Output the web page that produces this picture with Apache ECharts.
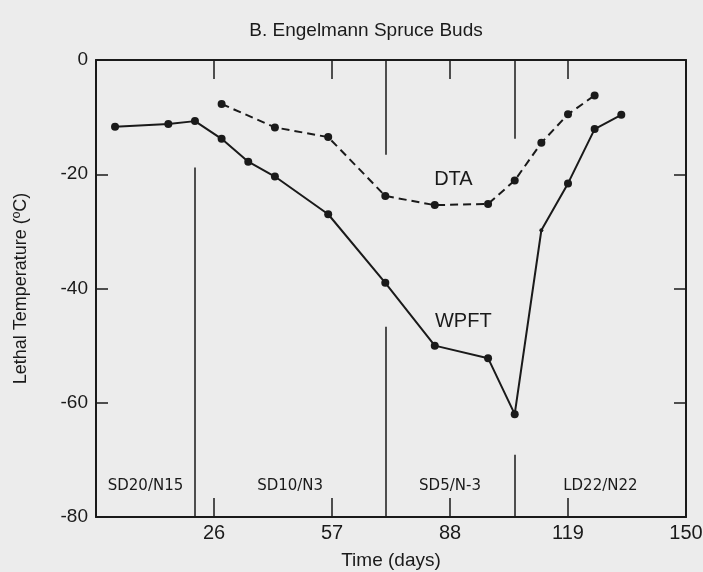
<!DOCTYPE html>
<html>
<head>
<meta charset="utf-8">
<script src="https://cdn.jsdelivr.net/npm/echarts@6/dist/echarts.min.js"></script>
<style>
html,body{margin:0;padding:0;background:#ececec;}
#chart{width:703px;height:572px;}
</style>
</head>
<body>
<div id="chart"></div>
<script>
// 读取自原图的数据
const wpftDays  = [0, 14, 21, 28, 35, 42, 56, 71, 84, 98, 105, 112, 119, 126, 133];
const wpftTemps = [-11.7, -11.2, -10.7, -13.8, -17.8, -20.4, -27.0, -39.0, -50.0, -52.2, -62.0, -29.8, -21.6, -12.1, -9.6];
const dtaDays   = [28, 42, 56, 71, 84, 98, 105, 112, 119, 126];
const dtaTemps  = [-7.7, -11.8, -13.5, -23.8, -25.4, -25.2, -21.1, -14.5, -9.5, -6.2];
const xTicks = [26, 57, 88, 119, 150];
const phaseNames  = ['SD20/N15', 'SD10/N3', 'SD5/N-3', 'LD22/N22'];
const phaseBounds = [-5, 21, 71, 105, 150];
// 阶段分界竖线: [天, 起点温度, 终点温度]
const boundSegs = [[21, -80, -18.8], [71, 0, -16.6], [71, -46.7, -80], [105, 0, -13.8], [105, -69.1, -80]];

const ink = '#1a1a1a';
const font = 'Liberation Sans, Arial, sans-serif';

const chart = echarts.init(document.getElementById('chart'));

const xBase = {
  type: 'value', min: -5, max: 150, interval: 31,
  axisLine: { onZero: false, lineStyle: { color: ink, width: 2 } },
  axisTick: { inside: true, length: 19, lineStyle: { color: ink, width: 1.5 } },
  splitLine: { show: false }
};
const yBase = {
  type: 'value', min: -80, max: 0, interval: 20,
  axisLine: { show: true, onZero: false, lineStyle: { color: ink, width: 2 } },
  axisTick: { show: true, inside: true, length: 12, lineStyle: { color: ink, width: 1.5 } },
  splitLine: { show: false }
};

const textLabel = (family, size) => ({
  show: true, position: 'inside', formatter: p => p.name,
  fontFamily: family, fontSize: size, color: ink, textBorderWidth: 0
});

const option = {
  backgroundColor: '#ececec',
  animation: false,
  title: {
    text: 'B. Engelmann Spruce Buds',
    left: 361, top: 16, textAlign: 'center',
    textStyle: { fontFamily: font, fontSize: 19, fontWeight: 'normal', color: ink }
  },
  grid: { left: 96, right: 17, top: 60, bottom: 55, outerBoundsMode: 'none' },
  xAxis: [
    Object.assign({}, xBase, {
      position: 'bottom',
      name: 'Time (days)', nameLocation: 'middle', nameGap: 34,
      nameTextStyle: { fontFamily: font, fontSize: 19, color: ink },
      axisLabel: {
        margin: 6, fontFamily: font, fontSize: 20, color: ink,
        formatter: v => xTicks.includes(v) ? String(v) : ''
      }
    }),
    Object.assign({}, xBase, { position: 'top', axisLabel: { show: false } })
  ],
  yAxis: [
    Object.assign({}, yBase, {
      position: 'left',
      name: 'Lethal Temperature (ºC)', nameLocation: 'middle', nameGap: 66, nameRotate: 90,
      nameTextStyle: { fontFamily: font, fontSize: 18, color: ink },
      axisLabel: { margin: 8, fontFamily: font, fontSize: 19, color: ink }
    }),
    Object.assign({}, yBase, { position: 'right', axisLabel: { show: false } })
  ],
  series: [
    {
      name: 'WPFT', type: 'line', z: 5,
      // 第 12 个点在原图中是小点
      data: wpftDays.map((d, i) => i === 11 ? { value: [d, wpftTemps[i]], symbolSize: 4 } : [d, wpftTemps[i]]),
      symbol: 'circle', symbolSize: 8,
      itemStyle: { color: ink },
      lineStyle: { color: ink, width: 2 }
    },
    {
      name: 'DTA', type: 'line', z: 5,
      data: dtaDays.map((d, i) => [d, dtaTemps[i]]),
      symbol: 'circle', symbolSize: 8,
      itemStyle: { color: ink },
      lineStyle: { color: ink, width: 2, type: [8, 5] }
    },
    {
      // 阶段分界线
      type: 'line', data: [], silent: true,
      markLine: {
        symbol: 'none', silent: true, label: { show: false },
        lineStyle: { color: ink, width: 1.5, type: 'solid' },
        data: boundSegs.map(s => [{ coord: [s[0], s[1]] }, { coord: [s[0], s[2]] }])
      }
    },
    {
      // 阶段名称
      type: 'scatter', symbolSize: 0, silent: true, itemStyle: { color: ink, opacity: 1 },
      data: phaseNames.map((n, i) => ({ value: [(phaseBounds[i] + phaseBounds[i + 1]) / 2, -74.6], name: n })),
      label: textLabel('DejaVu Sans, sans-serif', 15)
    },
    {
      // 曲线名称
      type: 'scatter', symbolSize: 0, silent: true, itemStyle: { color: ink, opacity: 1 },
      data: [{ value: [88.9, -20.9], name: 'DTA' }, { value: [91.5, -45.8], name: 'WPFT' }],
      label: textLabel(font, 20)
    }
  ]
};
chart.setOption(option);
</script>
</body>
</html>
